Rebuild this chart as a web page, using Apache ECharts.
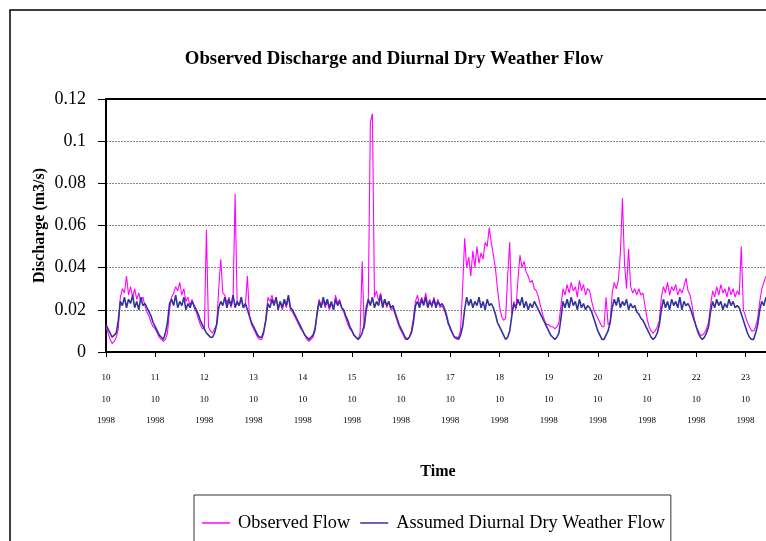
<!DOCTYPE html>
<html>
<head>
<meta charset="utf-8">
<script src="https://cdn.jsdelivr.net/npm/echarts@6/dist/echarts.min.js"></script>
<style>
html,body{margin:0;padding:0;background:#fff;}
#chart{width:766px;height:541px;}
</style>
</head>
<body>
<div id="chart"></div>
<script>
// Hourly values, starting 10/10/1998 00:00
const startDay = 10;
const stepHours = 1;
const monthLabel = '10';
const yearLabel = '1998';
const dayTicks = [10,11,12,13,14,15,16,17,18,19,20,21,22,23];
const yTicks = [0,0.02,0.04,0.06,0.08,0.1,0.12];

// Observed Flow (m3/s)
const obs10 = [0.012,0.009,0.006,0.004,0.005,0.007,0.011,0.026,0.030,0.028,0.036,0.027,0.031,0.026,0.030,0.025,0.028,0.024,0.026,0.022,0.019,0.017,0.014,0.012];
const obs11 = [0.011,0.009,0.007,0.006,0.005,0.006,0.009,0.020,0.026,0.028,0.031,0.029,0.033,0.027,0.030,0.024,0.026,0.022,0.025,0.021,0.019,0.016,0.013,0.011];
const obs12 = [0.011,0.058,0.012,0.010,0.009,0.011,0.013,0.030,0.044,0.028,0.027,0.023,0.026,0.021,0.025,0.075,0.023,0.022,0.025,0.021,0.022,0.036,0.017,0.013];
const obs13 = [0.011,0.009,0.007,0.006,0.006,0.009,0.016,0.026,0.024,0.027,0.023,0.025,0.021,0.024,0.020,0.024,0.021,0.026,0.020,0.019,0.017,0.015,0.013,0.011];
const obs14 = [0.010,0.008,0.006,0.005,0.006,0.007,0.010,0.019,0.025,0.022,0.024,0.021,0.024,0.020,0.023,0.020,0.027,0.023,0.025,0.021,0.019,0.016,0.013,0.011];
const obs15 = [0.010,0.008,0.007,0.006,0.009,0.043,0.011,0.019,0.024,0.109,0.113,0.026,0.029,0.024,0.028,0.022,0.025,0.021,0.024,0.020,0.021,0.018,0.015,0.012];
const obs16 = [0.010,0.008,0.006,0.006,0.007,0.010,0.016,0.024,0.027,0.022,0.026,0.023,0.028,0.022,0.025,0.021,0.026,0.022,0.025,0.021,0.022,0.020,0.017,0.013];
const obs17 = [0.012,0.009,0.007,0.006,0.007,0.010,0.030,0.054,0.040,0.045,0.036,0.048,0.040,0.050,0.042,0.047,0.044,0.052,0.050,0.059,0.052,0.046,0.040,0.030];
const obs18 = [0.022,0.017,0.015,0.016,0.036,0.052,0.018,0.024,0.020,0.034,0.046,0.040,0.043,0.038,0.036,0.033,0.034,0.030,0.029,0.026,0.022,0.018,0.015,0.013];
const obs19 = [0.013,0.012,0.012,0.011,0.012,0.014,0.022,0.030,0.027,0.032,0.028,0.033,0.029,0.031,0.026,0.034,0.029,0.032,0.027,0.030,0.029,0.024,0.020,0.018];
const obs20 = [0.016,0.014,0.012,0.012,0.026,0.013,0.014,0.028,0.033,0.030,0.034,0.047,0.073,0.042,0.030,0.049,0.031,0.028,0.030,0.027,0.030,0.027,0.028,0.022];
const obs21 = [0.016,0.012,0.010,0.009,0.010,0.012,0.015,0.026,0.031,0.028,0.033,0.027,0.031,0.029,0.032,0.027,0.030,0.028,0.031,0.035,0.029,0.027,0.022,0.016];
const obs22 = [0.012,0.010,0.008,0.008,0.009,0.011,0.014,0.022,0.029,0.026,0.031,0.027,0.032,0.028,0.030,0.026,0.031,0.027,0.030,0.026,0.029,0.027,0.050,0.020];
const obs23 = [0.017,0.014,0.012,0.010,0.010,0.012,0.016,0.024,0.030,0.033,0.036];

// Assumed Diurnal Dry Weather Flow (m3/s)
const dwf10 = [0.013,0.011,0.009,0.007,0.008,0.009,0.015,0.024,0.022,0.026,0.021,0.025,0.023,0.027,0.021,0.024,0.020,0.026,0.022,0.023,0.021,0.019,0.017,0.014];
const dwf11 = [0.012,0.010,0.008,0.007,0.006,0.009,0.014,0.023,0.025,0.022,0.027,0.021,0.024,0.022,0.026,0.020,0.023,0.021,0.024,0.022,0.020,0.018,0.015,0.013];
const dwf12 = [0.011,0.009,0.008,0.007,0.007,0.009,0.013,0.021,0.024,0.022,0.026,0.021,0.025,0.022,0.027,0.021,0.024,0.022,0.026,0.021,0.023,0.020,0.017,0.014];
const dwf13 = [0.012,0.010,0.008,0.007,0.007,0.010,0.015,0.023,0.021,0.025,0.022,0.026,0.020,0.024,0.021,0.025,0.022,0.027,0.021,0.020,0.018,0.016,0.014,0.012];
const dwf14 = [0.010,0.008,0.007,0.006,0.007,0.008,0.011,0.018,0.024,0.021,0.026,0.022,0.025,0.021,0.024,0.020,0.025,0.022,0.024,0.021,0.020,0.017,0.015,0.012];
const dwf15 = [0.010,0.008,0.007,0.006,0.007,0.009,0.013,0.021,0.025,0.022,0.026,0.021,0.024,0.022,0.027,0.021,0.025,0.022,0.024,0.021,0.022,0.019,0.016,0.013];
const dwf16 = [0.011,0.009,0.007,0.006,0.007,0.009,0.014,0.022,0.024,0.021,0.025,0.022,0.026,0.021,0.024,0.022,0.025,0.021,0.024,0.022,0.023,0.021,0.018,0.014];
const dwf17 = [0.011,0.009,0.007,0.007,0.006,0.008,0.012,0.020,0.026,0.022,0.025,0.021,0.024,0.022,0.026,0.021,0.024,0.020,0.025,0.022,0.023,0.021,0.018,0.014];
const dwf18 = [0.012,0.010,0.008,0.006,0.007,0.010,0.017,0.023,0.021,0.025,0.022,0.026,0.021,0.024,0.020,0.023,0.021,0.024,0.022,0.020,0.018,0.016,0.014,0.012];
const dwf19 = [0.010,0.008,0.007,0.006,0.007,0.009,0.016,0.024,0.021,0.025,0.021,0.026,0.022,0.024,0.020,0.025,0.021,0.023,0.020,0.022,0.021,0.019,0.016,0.013];
const dwf20 = [0.010,0.008,0.006,0.006,0.008,0.010,0.014,0.021,0.025,0.022,0.026,0.021,0.024,0.022,0.025,0.020,0.023,0.021,0.022,0.019,0.018,0.016,0.015,0.013];
const dwf21 = [0.011,0.009,0.007,0.006,0.007,0.009,0.013,0.020,0.025,0.021,0.024,0.020,0.025,0.022,0.024,0.021,0.026,0.020,0.024,0.022,0.023,0.021,0.018,0.015];
const dwf22 = [0.012,0.009,0.007,0.006,0.007,0.009,0.012,0.019,0.024,0.021,0.025,0.022,0.024,0.020,0.023,0.021,0.025,0.022,0.024,0.021,0.022,0.021,0.018,0.015];
const dwf23 = [0.012,0.009,0.007,0.006,0.006,0.009,0.013,0.020,0.024,0.022,0.026];

const observed = [].concat(obs10,obs11,obs12,obs13,obs14,obs15,obs16,obs17,obs18,obs19,obs20,obs21,obs22,obs23);
const dwf = [].concat(dwf10,dwf11,dwf12,dwf13,dwf14,dwf15,dwf16,dwf17,dwf18,dwf19,dwf20,dwf21,dwf22,dwf23);

function toPairs(arr){ return arr.map((v,i)=>[startDay + i*stepHours/24, v]); }

const serif = 'Liberation Serif, Times New Roman, serif';
const chart = echarts.init(document.getElementById('chart'), null, {renderer:'canvas'});

const option = {
  animation: false,
  backgroundColor: '#fff',
  title: {
    text: 'Observed Discharge and Diurnal Dry Weather Flow',
    left: 389, top: 45, textAlign: 'center',
    textStyle: {fontFamily: serif, fontSize: 18.8, fontWeight: 'bold', color: '#000'}
  },
  graphic: [{
    type: 'rect', silent: true, z: -1,
    shape: {x: 10, y: 10, width: 900, height: 900},
    style: {fill: 'none', stroke: '#000', lineWidth: 1.5}
  }],
  legend: {
    left: 194, top: 495,
    orient: 'horizontal',
    padding: [19, 6, 40, 8],
    itemGap: 10,
    itemWidth: 28, itemHeight: 1.5,
    icon: 'rect',
    borderColor: '#333', borderWidth: 1,
    textStyle: {fontFamily: serif, fontSize: 18.3, color: '#000', padding: [0,0,0,3]},
    data: ['Observed Flow', 'Assumed Diurnal Dry Weather Flow']
  },
  grid: {left: 106, top: 99, right: -4, bottom: 189, containLabel: false, outerBoundsMode: 'none'},
  xAxis: [{
    type: 'value', min: 10, max: 23.5, interval: 1, position: 'bottom',
    name: 'Time', nameLocation: 'middle', nameGap: 112, nameMoveOverlap: false,
    nameTextStyle: {fontFamily: serif, fontSize: 16, fontWeight: 'bold', color: '#000'},
    axisLine: {show: true, onZero: false, lineStyle: {color: '#000', width: 2}},
    axisTick: {show: true, length: 5, lineStyle: {color: '#000', width: 1}},
    axisLabel: {
      margin: 15, fontFamily: serif, fontSize: 9, lineHeight: 21.5, color: '#000',
      showMaxLabel: false,
      formatter: function(v){ return dayTicks.indexOf(v) >= 0 ? v + '\n' + monthLabel + '\n' + yearLabel : ''; }
    },
    splitLine: {show: false}
  }, {
    type: 'value', min: 10, max: 23.5, position: 'top',
    axisLine: {show: true, onZero: false, lineStyle: {color: '#000', width: 2}},
    axisTick: {show: false}, axisLabel: {show: false}, splitLine: {show: false}
  }],
  yAxis: {
    type: 'value', min: yTicks[0], max: yTicks[yTicks.length-1], interval: 0.02,
    name: 'Discharge (m3/s)', nameLocation: 'middle', nameGap: 58, nameRotate: 90, nameMoveOverlap: false,
    nameTextStyle: {fontFamily: serif, fontSize: 16, fontWeight: 'bold', color: '#000'},
    axisLine: {show: true, lineStyle: {color: '#000', width: 2}},
    axisTick: {show: true, length: 8, lineStyle: {color: '#000', width: 1}},
    axisLabel: {margin: 20, fontFamily: serif, fontSize: 18, color: '#000'},
    splitLine: {show: true, lineStyle: {color: '#888', width: 1, type: [2, 1]}}
  },
  series: [{
    name: 'Observed Flow', type: 'line', xAxisIndex: 0,
    data: toPairs(observed), symbol: 'none', showSymbol: false,
    lineStyle: {color: '#FF00FF', width: 1.1}, itemStyle: {color: '#FF00FF'}, z: 2
  }, {
    name: 'Assumed Diurnal Dry Weather Flow', type: 'line', xAxisIndex: 0,
    data: toPairs(dwf), symbol: 'none', showSymbol: false,
    lineStyle: {color: '#333399', width: 1.6}, itemStyle: {color: '#333399'}, z: 3
  }]
};
chart.setOption(option);
</script>
</body>
</html>
